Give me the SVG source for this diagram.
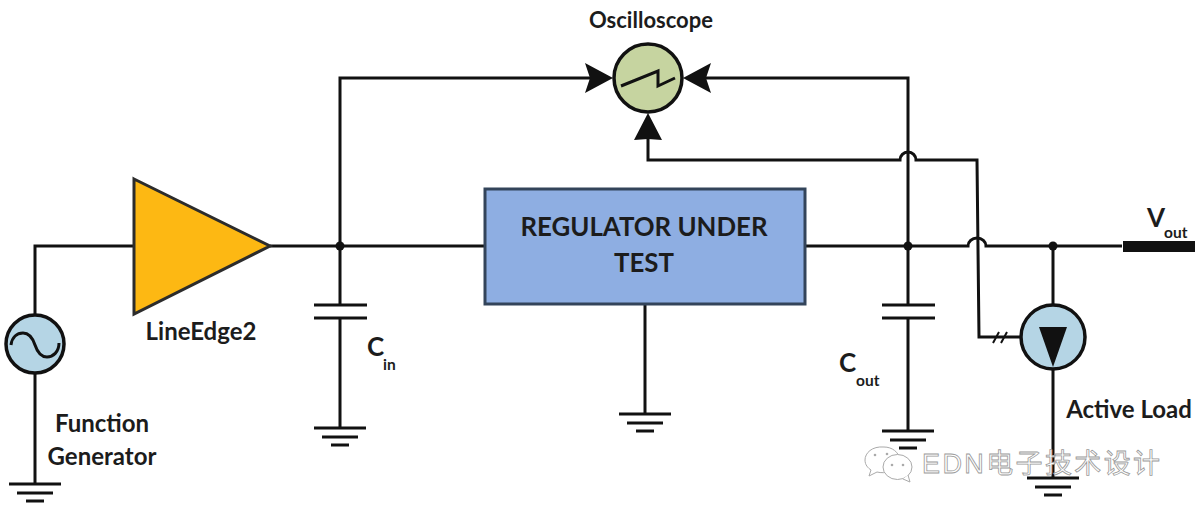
<svg xmlns="http://www.w3.org/2000/svg" width="1200" height="517" viewBox="0 0 1200 517">
<style>
.w{fill:none;stroke:#111;stroke-width:3;stroke-linejoin:miter}
.g{fill:none;stroke:#111;stroke-width:3}
.o{stroke:#111;stroke-width:3.5}
.a{fill:#111;stroke:none}
text{font-family:"Lato","Liberation Sans","Noto Sans CJK SC",sans-serif;font-weight:700;fill:#1c1c1c}
.t{font-size:24px}
.s{font-size:15.5px}
.c{font-size:26px}
.m{font-family:"Liberation Sans","Noto Sans CJK SC",sans-serif;font-weight:400;font-size:27px;fill:#fff;stroke:#999;stroke-width:.8}
.b{fill:#fff;stroke:#aaa;stroke-width:1}
</style>
<defs>
<g id="gnd" class="g"><path d="M-26 0H26M-18 9H18M-9 17H9"/></g>
<path id="arr" class="a" d="M0 0L-28 -15L-23 0L-28 15Z"/>
<path id="arr2" class="a" d="M0 0L-27 -14L-26 0L-27 14Z"/>
</defs>
<rect width="1200" height="517" fill="#fff"/>
<g id="connectors">
<path class="w" d="M35 315V246H134"/>
<path class="w" d="M270 246H485"/>
<path class="w" d="M340 246V78H590"/>
<path class="w" d="M340 246V305M314 305H367M314 318H367M340 318V428"/>
<path class="w" d="M35 373V484"/>
<path class="w" d="M645 304V414"/>
<path class="w" d="M805 246H968A9 8 0 0 1 986 246H1122"/>
<path class="w" d="M908 431V318M882 318H935M882 305H935M908 305V78H705"/>
<path class="w" d="M648 136V160H900A8 8 0 0 1 916 160H977L979 337H1020"/>
<path class="w" d="M1053 246V478"/>
<path d="M993 343L999 332M1001 343L1007 332" fill="none" stroke="#111" stroke-width="2"/>
<circle class="a" cx="340" cy="246" r="4.5"/>
<circle class="a" cx="908" cy="246" r="4.5"/>
<circle class="a" cx="1053" cy="246" r="4.5"/>
<rect class="a" x="1123" y="241" width="72" height="11"/>
<use href="#arr" transform="translate(613 78)"/>
<use href="#arr" transform="translate(683 78) rotate(180)"/>
<use href="#arr2" transform="translate(648 113) rotate(-90)"/>
<use href="#gnd" transform="translate(340 428)"/>
<use href="#gnd" transform="translate(35 484)"/>
<use href="#gnd" transform="translate(645 414)"/>
<use href="#gnd" transform="translate(908 431)"/>
<use href="#gnd" transform="translate(1053 478)"/>
</g>
<g id="function-generator">
<circle class="o" cx="35" cy="344" r="29" fill="#b5d5e5"/>
<path d="M11 345C12 337 17 333 23 333C30 333 33 339 35 345C37 351 41 357 47 357C53 357 59 352 59 343" fill="none" stroke="#111" stroke-width="3"/>
<text class="t" x="102" y="432" text-anchor="middle">Function</text>
<text class="t" x="102" y="465" text-anchor="middle">Generator</text>
</g>
<g id="lineedge2">
<path d="M134 179L270 246L134 314Z" fill="#fdb813" stroke="#2c2c2c" stroke-width="3"/>
<text class="t" x="201" y="340" text-anchor="middle">LineEdge2</text>
</g>
<g id="cin">
<text class="c" x="367" y="356">C</text>
<text class="s" x="383" y="370">in</text>
</g>
<g id="regulator">
<rect x="485" y="189" width="320" height="115" fill="#8eaee2" stroke="#33445a" stroke-width="3"/>
<text x="644" y="236" text-anchor="middle" font-size="25.8" style="font-size:25.8px">REGULATOR UNDER</text>
<text x="644" y="272" text-anchor="middle" style="font-size:25.8px">TEST</text>
</g>
<g id="oscilloscope">
<circle class="o" cx="648" cy="78" r="34" fill="#c6d4a0"/>
<path d="M621 86L658 71L658 86L675 78" fill="none" stroke="#111" stroke-width="3"/>
<text x="651" y="28" text-anchor="middle" style="font-size:22px">Oscilloscope</text>
</g>
<g id="cout">
<text class="c" x="839" y="372">C</text>
<text class="s" x="856" y="386">out</text>
</g>
<g id="active-load">
<circle class="o" cx="1053" cy="337" r="32" fill="#b5d5e5"/>
<path class="a" d="M1039 327H1067L1053 367Z"/>
<text class="t" x="1129" y="418" text-anchor="middle">Active Load</text>
</g>
<g id="vout">
<text class="c" x="1147" y="227">V</text>
<text class="s" x="1164" y="238">out</text>
</g>
<g id="watermark">
<path class="b" d="M884 447C872 446 865 453 865 460C865 465 868 468 871 470L869 476L877 472C885 474 896 472 900 460C899 452 892 447 884 447Z"/>
<ellipse class="b" cx="897.5" cy="467" rx="14.5" ry="12.5"/>
<path class="b" d="M903 479L910 482L908 475"/>
<circle cx="892" cy="465" r="1.3" fill="#aaa"/><circle cx="903" cy="465" r="1.3" fill="#aaa"/>
<circle cx="875" cy="455" r="1.3" fill="#aaa"/><circle cx="887" cy="454" r="1.3" fill="#aaa"/>
<text class="m" x="922" y="473" textLength="238" lengthAdjust="spacing">EDN电子技术设计</text>
</g>
</svg>
